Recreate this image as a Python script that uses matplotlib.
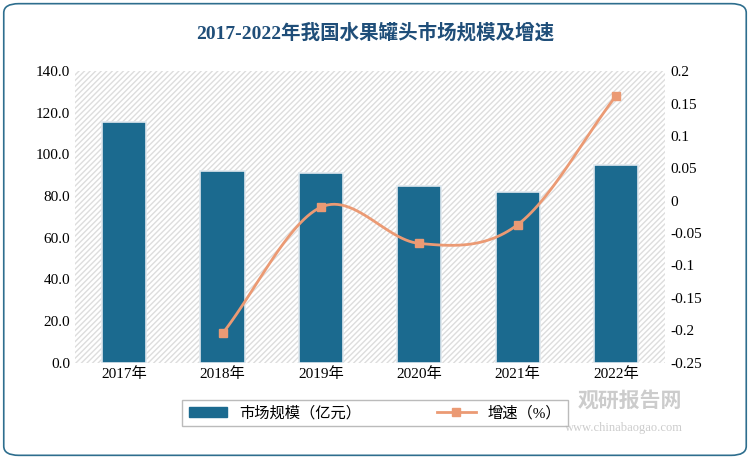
import numpy as np
import matplotlib.pyplot as plt
from matplotlib.patches import FancyBboxPatch

plt.rcParams['font.family'] = ['Liberation Serif', 'Noto Sans CJK SC', 'Noto Sans CJK JP',
                               'Noto Sans CJK TC', 'DejaVu Sans']

years = ['2017年', '2018年', '2019年', '2020年', '2021年', '2022年']
market = [115.5, 92.0, 91.0, 85.0, 82.0, 95.0]
growth_years = [1, 2, 3, 4, 5]
growth = [-0.205, -0.010, -0.066, -0.037, 0.162]

def smooth(xs, ys, n=30):
    # Catmull-Rom curve through the points
    xs = np.asarray(xs, float); ys = np.asarray(ys, float)
    px = np.r_[2*xs[0]-xs[1], xs, 2*xs[-1]-xs[-2]]
    py = np.r_[2*ys[0]-ys[1], ys, 2*ys[-1]-ys[-2]]
    ox, oy = [], []
    t = np.linspace(0, 1, n)
    for i in range(1, len(px)-2):
        for p, o in ((px, ox), (py, oy)):
            p0, p1, p2, p3 = p[i-1], p[i], p[i+1], p[i+2]
            o.extend(0.5*((2*p1) + (-p0+p2)*t + (2*p0-5*p1+4*p2-p3)*t**2 + (-p0+3*p1-3*p2+p3)*t**3))
    return ox, oy

fig = plt.figure(figsize=(7.5, 4.59), dpi=100)
fig.patches.append(FancyBboxPatch((0.005, 0.008), 0.99, 0.984, boxstyle='round,pad=0,rounding_size=0.02',
                                  transform=fig.transFigure, fill=False, ec='#2e6e8e', lw=1.2))
fig.text(0.5, 0.915, '2017-2022年我国水果罐头市场规模及增速', ha='center', fontsize=14,
         fontweight='bold', color='#1f4e79')

ax = fig.add_axes([0.1, 0.21, 0.787, 0.635])
x = np.arange(len(years))
ax.bar(x, market, width=0.45, color='#1b6a8f', edgecolor='#dfe8ee', lw=1.2, zorder=3)
ax.set_ylim(0, 140)
ax.set_yticks(np.arange(0, 141, 20))
ax.set_yticklabels([f'{v:.1f}' for v in np.arange(0, 141, 20)])
ax.set_xticks(x)
ax.set_xticklabels(years)
ax.set_xlim(-0.5, 5.5)
ax.add_patch(plt.Rectangle((0, 0), 1, 1, transform=ax.transAxes, facecolor='none',
                           hatch='//////', edgecolor='#dddddd', lw=0, zorder=0))
for s in ax.spines.values():
    s.set_visible(False)
ax.tick_params(length=0, labelsize=11)

ax2 = ax.twinx()
sx, sy = smooth(growth_years, growth)
ax2.plot(sx, sy, color='#eb9a74', lw=2, zorder=4)
ax2.plot(growth_years, growth, 's', color='#eb9a74', ms=6, zorder=5)
ax2.set_ylim(-0.25, 0.2)
ax2.set_yticks(np.arange(-0.25, 0.201, 0.05))
ax2.set_yticklabels(['-0.25', '-0.2', '-0.15', '-0.1', '-0.05', '0', '0.05', '0.1', '0.15', '0.2'])
for s in ax2.spines.values():
    s.set_visible(False)
ax2.tick_params(length=0, labelsize=11)

h1 = plt.Rectangle((0, 0), 1, 1, color='#1b6a8f')
h2, = plt.plot([], [], '-s', color='#eb9a74', lw=2, ms=6)
fig.legend([h1, h2], ['市场规模（亿元）', '增速（%）'], loc='center', bbox_to_anchor=(0.5, 0.1),
           ncol=2, frameon=True, fontsize=11, handlelength=2.5, columnspacing=5,
           fancybox=False, edgecolor='#aaaaaa')
fig.text(0.91, 0.115, '观研报告网', ha='right', fontsize=15, fontweight='bold', color='#cccccc')
fig.text(0.91, 0.06, 'www.chinabaogao.com', ha='right', fontsize=9, color='#cccccc')

fig.savefig('out.png', dpi=100)
